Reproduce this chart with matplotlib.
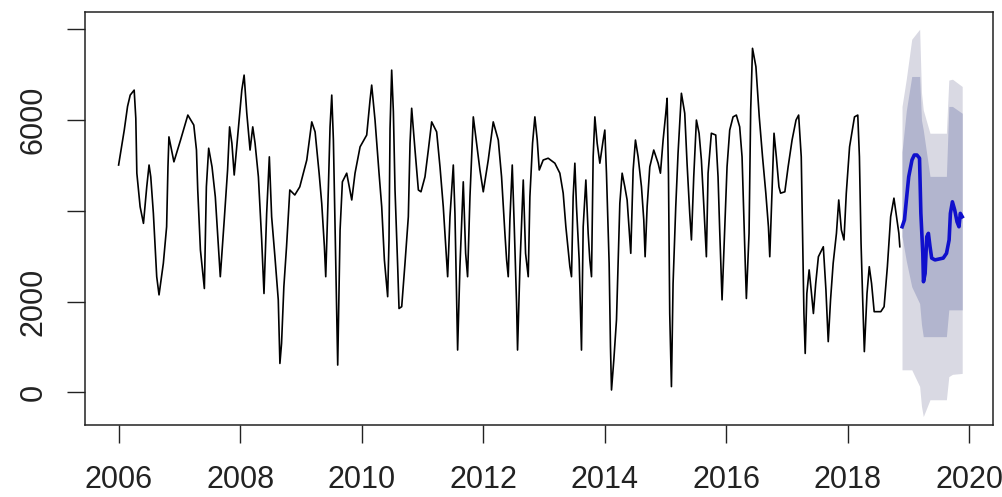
import matplotlib
matplotlib.use("Agg")
import matplotlib.pyplot as plt

obs_t = [2006.000, 2006.093, 2006.147, 2006.191, 2006.256, 2006.283, 2006.300, 2006.354, 2006.409, 2006.463,
         2006.501, 2006.529, 2006.572, 2006.627, 2006.665, 2006.736, 2006.790, 2006.812, 2006.828, 2006.910,
         2007.019, 2007.139, 2007.237, 2007.281, 2007.302, 2007.346, 2007.411, 2007.444, 2007.482, 2007.537,
         2007.591, 2007.629, 2007.673, 2007.738, 2007.793, 2007.826, 2007.864, 2007.902, 2007.973, 2008.027,
         2008.065, 2008.109, 2008.163, 2008.207, 2008.245, 2008.300, 2008.354, 2008.392, 2008.436, 2008.480,
         2008.518, 2008.572, 2008.627, 2008.654, 2008.681, 2008.719, 2008.763, 2008.817, 2008.899, 2008.981,
         2009.096, 2009.178, 2009.233, 2009.299, 2009.342, 2009.386, 2009.408, 2009.452, 2009.479, 2009.507,
         2009.534, 2009.562, 2009.589, 2009.605, 2009.644, 2009.682, 2009.753, 2009.836, 2009.890, 2009.973,
         2010.082, 2010.137, 2010.164, 2010.219, 2010.285, 2010.329, 2010.373, 2010.427, 2010.449, 2010.466,
         2010.493, 2010.521, 2010.548, 2010.592, 2010.614, 2010.658, 2010.712, 2010.767, 2010.795, 2010.822,
         2010.877, 2010.932, 2010.975, 2011.041, 2011.096, 2011.151, 2011.233, 2011.288, 2011.342, 2011.397,
         2011.414, 2011.452, 2011.507, 2011.534, 2011.562, 2011.578, 2011.616, 2011.671, 2011.710, 2011.742,
         2011.781, 2011.836, 2011.890, 2011.945, 2012.000, 2012.082, 2012.164, 2012.247, 2012.301, 2012.356,
         2012.384, 2012.411, 2012.438, 2012.477, 2012.510, 2012.548, 2012.564, 2012.603, 2012.658, 2012.696,
         2012.740, 2012.767, 2012.811, 2012.849, 2012.888, 2012.921, 2012.986, 2013.068, 2013.178, 2013.260,
         2013.315, 2013.359, 2013.397, 2013.425, 2013.452, 2013.479, 2013.507, 2013.534, 2013.578, 2013.600,
         2013.616, 2013.644, 2013.688, 2013.726, 2013.753, 2013.781, 2013.808, 2013.836, 2013.874, 2013.918,
         2013.973, 2014.000, 2014.027, 2014.071, 2014.093, 2014.110, 2014.148, 2014.192, 2014.219, 2014.247,
         2014.285, 2014.329, 2014.367, 2014.400, 2014.427, 2014.466, 2014.504, 2014.548, 2014.603, 2014.641,
         2014.663, 2014.696, 2014.740, 2014.805, 2014.877, 2014.915, 2014.959, 2015.003, 2015.025, 2015.047,
         2015.068, 2015.096, 2015.123, 2015.167, 2015.205, 2015.260, 2015.315, 2015.353, 2015.397, 2015.425,
         2015.463, 2015.507, 2015.551, 2015.589, 2015.627, 2015.671, 2015.699, 2015.753, 2015.825, 2015.863,
         2015.890, 2015.929, 2015.973, 2016.011, 2016.055, 2016.110, 2016.164, 2016.219, 2016.258, 2016.285,
         2016.312, 2016.329, 2016.373, 2016.400, 2016.430, 2016.486, 2016.541, 2016.595, 2016.649, 2016.692,
         2016.714, 2016.746, 2016.784, 2016.822, 2016.865, 2016.892, 2016.962, 2017.016, 2017.081, 2017.146,
         2017.189, 2017.232, 2017.254, 2017.276, 2017.297, 2017.324, 2017.362, 2017.395, 2017.432, 2017.470,
         2017.514, 2017.595, 2017.638, 2017.676, 2017.714, 2017.757, 2017.811, 2017.849, 2017.892, 2017.935,
         2017.973, 2018.027, 2018.108, 2018.162, 2018.189, 2018.216, 2018.243, 2018.270, 2018.314, 2018.351,
         2018.389, 2018.432, 2018.541, 2018.595, 2018.649, 2018.703, 2018.757, 2018.800, 2018.838, 2018.854]
obs_v = [5010, 5780, 6300, 6550, 6660, 6040, 4830, 4090, 3725, 4530,
         5010, 4750, 3945, 2550, 2150, 2845, 3650, 4970, 5630, 5080,
         5560, 6110, 5890, 5340, 4460, 3140, 2290, 4530, 5380, 4970,
         4310, 3505, 2550, 3800, 4900, 5850, 5490, 4790, 5850, 6660,
         6990, 6150, 5340, 5850, 5490, 4750, 3360, 2180, 3945, 5190,
         3870, 2990, 2040, 640, 1080, 2330, 3210, 4460, 4350, 4530,
         5120, 5960, 5740, 4830, 4165, 3210, 2550, 4530, 5850, 6550,
         5560, 3580, 1600, 605, 3580, 4640, 4830, 4240, 4830, 5410,
         5670, 6440, 6770, 6000, 4830, 4090, 2920, 2110, 3360, 5810,
         7100, 6180, 4460, 2770, 1850, 1890, 2845, 3870, 5490, 6260,
         5340, 4460, 4420, 4750, 5340, 5960, 5740, 4970, 4090, 2920,
         2550, 3870, 5010, 3945, 1960, 935, 2770, 4640, 3065, 2550,
         4310, 6070, 5490, 4900, 4420, 5120, 5960, 5560, 4750, 3505,
         2920, 2550, 3800, 5010, 3650, 1960, 935, 2770, 4680, 3065,
         2550, 4310, 5490, 6070, 5560, 4900, 5120, 5160, 5050, 4830,
         4390, 3650, 3140, 2770, 2550, 4310, 5050, 4090, 2920, 1740,
         935, 3650, 4680, 3505, 2920, 2550, 5190, 6070, 5490, 5050,
         5560, 5780, 4830, 2845, 1010, 55, 715, 1600, 2845, 4165,
         4830, 4530, 4240, 3580, 3065, 4900, 5560, 5190, 4530, 3800,
         2990, 4090, 4970, 5340, 5050, 4830, 5560, 6150, 6480, 4830,
         1740, 130, 2400, 4090, 5270, 6590, 6150, 5050, 3945, 3360,
         4750, 6000, 5710, 5120, 4165, 2990, 4830, 5710, 5670, 4750,
         3580, 2040, 3580, 4970, 5780, 6070, 6110, 5850, 5190, 3945,
         2770, 2070, 3505, 6220, 7580, 7175, 6070, 5190, 4390, 3650,
         2990, 4240, 5710, 5190, 4530, 4390, 4420, 4970, 5560, 6000,
         6110, 5190, 3505, 1740, 860, 2180, 2700, 2260, 1740, 2400,
         2990, 3210, 2260, 1120, 2040, 2845, 3505, 4240, 3580, 3360,
         4390, 5410, 6070, 6110, 5190, 3285, 2040, 900, 2180, 2770,
         2400, 1780, 1780, 1890, 2770, 3870, 4280, 3870, 3505, 3210]

# point forecast
fc_t = [2018.892, 2018.930, 2018.973, 2019.000, 2019.054, 2019.092, 2019.135, 2019.178, 2019.200,
        2019.232, 2019.243, 2019.270, 2019.297, 2019.324, 2019.351, 2019.378, 2019.432, 2019.568,
        2019.622, 2019.665, 2019.686, 2019.719, 2019.757, 2019.795, 2019.827, 2019.849, 2019.881]
fc_v = [3650, 3800, 4390, 4750, 5120, 5230, 5230, 5160, 3945,
        3065, 2440, 2620, 3430, 3505, 3210, 2960, 2920, 2960,
        3065, 3360, 3945, 4200, 4020, 3760, 3650, 3945, 3870]

# prediction intervals
band_t = [2018.89, 2018.96, 2019.05, 2019.18, 2019.21, 2019.24, 2019.35, 2019.62, 2019.66, 2019.72, 2019.88]
hi95 = [6300, 6900, 7780, 8000, 6600, 6220, 5710, 5710, 6880, 6900, 6740]
hi80 = [5300, 6200, 6960, 6960, 6000, 5780, 4760, 4760, 6300, 6300, 6150]
lo80 = [3440, 2900, 2330, 1960, 1500, 1230, 1230, 1230, 1820, 1820, 1820]
lo95 = [500, 500, 500, 135, -300, -530, -160, -160, 350, 400, 420]

x_ticks = [2006, 2008, 2010, 2012, 2014, 2016, 2018, 2020]
y_ticks = [0, 2000, 4000, 6000, 8000]
y_labels = ["0", "2000", "", "6000", ""]

plt.rcParams['font.family'] = ['Liberation Sans', 'DejaVu Sans']

fig = plt.figure(figsize=(10.03, 4.97), dpi=100)
ax = fig.add_axes([85 / 1003, 1 - 425 / 497, 908 / 1003, 413 / 497])

ax.fill_between(band_t, lo95, hi95, color='#D9D9E3', lw=0)
ax.fill_between(band_t, lo80, hi80, color='#B2B5CE', lw=0)
ax.plot(obs_t, obs_v, color='black', lw=1.2)
ax.plot(fc_t, fc_v, color='#1010CC', lw=2.6)

ax.set_xlim(2005.447, 2020.387)
ax.set_ylim(-716, 8380)
ax.set_xticks(x_ticks)
ax.set_yticks(y_ticks)
ax.set_yticklabels(y_labels)
for lab in ax.get_yticklabels():
    lab.set_rotation(90)
    lab.set_va('center')

for s in ax.spines.values():
    s.set_linewidth(1.1)
    s.set_color('#222222')
ax.tick_params(axis='both', direction='out', length=13, width=1.0, color='#222222',
               labelsize=22, labelcolor='#222222')
ax.tick_params(axis='x', pad=16)
ax.tick_params(axis='y', pad=13)

fig.savefig("out.png", dpi=100)
